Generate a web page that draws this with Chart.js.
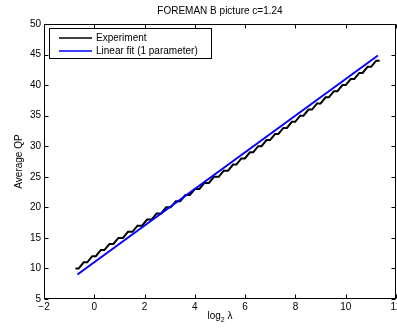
<!DOCTYPE html>
<html>
<head>
<meta charset="utf-8">
<script src="https://cdn.jsdelivr.net/npm/chart.js@4.4.0/dist/chart.umd.min.js"></script>
<style>
  html, body { margin: 0; padding: 0; background: #fff; }
</style>
</head>
<body>
<canvas id="chart" width="397" height="332"></canvas>
<script>
// Данные
const TITLE = "FOREMAN B picture c=1.24";
const X_TICKS = [-2, 0, 2, 4, 6, 8, 10, 12];
const Y_TICKS = [5, 10, 15, 20, 25, 30, 35, 40, 45, 50];

// Experiment: лесенка (полка + короткий подъём на следующий QP)
const expLog2Lambda = [-0.75, -0.62, -0.42, -0.28, -0.08, 0.06, 0.26, 0.40, 0.60, 0.76,
  0.96, 1.14, 1.34, 1.52, 1.72, 1.90, 2.10, 2.28, 2.48, 2.66, 2.86, 3.04, 3.24, 3.42,
  3.62, 3.80, 4.00, 4.18, 4.38, 4.56, 4.76, 4.95, 5.15, 5.32, 5.52, 5.65, 5.85, 5.99,
  6.19, 6.32, 6.52, 6.65, 6.85, 6.99, 7.19, 7.32, 7.52, 7.66, 7.86, 7.99, 8.19, 8.32,
  8.52, 8.66, 8.86, 9.00, 9.20, 9.33, 9.53, 9.67, 9.87, 10.00, 10.20, 10.34, 10.54,
  10.67, 10.87, 11.01, 11.21, 11.35];
const expQP = [10, 10, 11, 11, 12, 12, 13, 13, 14, 14, 15, 15, 16, 16, 17, 17, 18, 18,
  19, 19, 20, 20, 21, 21, 22, 22, 23, 23, 24, 24, 25, 25, 26, 26, 27, 27, 28, 28, 29,
  29, 30, 30, 31, 31, 32, 32, 33, 33, 34, 34, 35, 35, 36, 36, 37, 37, 38, 38, 39, 39,
  40, 40, 41, 41, 42, 42, 43, 43, 44, 44];

// Linear fit (1 parameter)
const fitLog2Lambda = [-0.67, 11.28];
const fitQP = [9.0, 44.85];

const FONT = '"Liberation Sans", Arial, Helvetica, sans-serif';
const fmtTick = (v) => (v < 0 ? "\u2212" + Math.abs(v) : String(v));

const frame = {
  id: "frame",
  afterDraw(chart) {
    const { ctx, chartArea: a, scales } = chart;
    const L = Math.round(a.left) + 0.5, R = Math.round(a.right) - 0.5;
    const T = Math.round(a.top) + 0.5, B = Math.round(a.bottom) - 0.5;
    ctx.save();
    ctx.strokeStyle = "#000";
    ctx.lineWidth = 1;
    ctx.strokeRect(L, T, R - L, B - T);
    // Тики внутрь, на всех четырёх сторонах
    ctx.beginPath();
    X_TICKS.forEach((v) => {
      const px = Math.round(scales.x.getPixelForValue(v)) + 0.5;
      ctx.moveTo(px, B); ctx.lineTo(px, B - 4);
      ctx.moveTo(px, T); ctx.lineTo(px, T + 4);
    });
    Y_TICKS.forEach((v) => {
      const py = Math.round(scales.y.getPixelForValue(v)) + 0.5;
      ctx.moveTo(L, py); ctx.lineTo(L + 4, py);
      ctx.moveTo(R, py); ctx.lineTo(R - 4, py);
    });
    ctx.stroke();

    // Заголовок и подписи осей
    ctx.fillStyle = "#000";
    ctx.font = "10px " + FONT;
    ctx.textAlign = "center";
    ctx.textBaseline = "middle";
    const cx = (a.left + a.right) / 2;
    ctx.fillText(TITLE, cx, 11);

    // log_2 λ
    const w1 = ctx.measureText("log").width;
    ctx.font = "7px " + FONT;
    const w2 = ctx.measureText("2").width;
    ctx.font = "10px " + FONT;
    const w3 = ctx.measureText(" \u03bb").width;
    const x0 = cx - (w1 + w2 + w3) / 2;
    ctx.textAlign = "left";
    ctx.fillText("log", x0, 316);
    ctx.font = "7px " + FONT;
    ctx.fillText("2", x0 + w1, 320);
    ctx.font = "10px " + FONT;
    ctx.fillText(" \u03bb", x0 + w1 + w2, 316);

    ctx.save();
    ctx.translate(19, (a.top + a.bottom) / 2);
    ctx.rotate(-Math.PI / 2);
    ctx.textAlign = "center";
    ctx.fillText("Average QP", 0, 0);
    ctx.restore();

    // Легенда
    ctx.fillStyle = "#fff";
    ctx.fillRect(49.5, 28.5, 162, 30);
    ctx.strokeRect(49.5, 28.5, 162, 30);
    const rows = [["Experiment", "#000", 38], ["Linear fit (1 parameter)", "#0000ff", 51]];
    rows.forEach(([label, color, y]) => {
      ctx.strokeStyle = color;
      ctx.lineWidth = 1.5;
      ctx.beginPath(); ctx.moveTo(59, y); ctx.lineTo(92, y); ctx.stroke();
      ctx.fillStyle = "#000";
      ctx.textAlign = "left";
      ctx.fillText(label, 96, y);
    });
    ctx.restore();
  },
};

new Chart(document.getElementById("chart"), {
  type: "scatter",
  data: {
    datasets: [
      {
        label: "Experiment",
        data: expLog2Lambda.map((x, i) => ({ x, y: expQP[i] })),
        showLine: true,
        borderColor: "#000", borderWidth: 2, pointRadius: 0, order: 2,
      },
      {
        label: "Linear fit (1 parameter)",
        data: fitLog2Lambda.map((x, i) => ({ x, y: fitQP[i] })),
        showLine: true,
        borderColor: "#0000ff", borderWidth: 2, pointRadius: 0, order: 1,
      },
    ],
  },
  options: {
    responsive: false,
    devicePixelRatio: 1,
    animation: false,
    layout: { padding: { top: 24, right: 1, left: 0, bottom: 0 } },
    plugins: { legend: { display: false }, title: { display: false }, tooltip: { enabled: false } },
    scales: {
      x: {
        type: "linear", min: -2, max: 12,
        afterBuildTicks: (s) => { s.ticks = X_TICKS.map((v) => ({ value: v })); },
        afterFit: (s) => { s.height = 33; s.paddingLeft = 0; s.paddingRight = 0; },
        grid: { display: false, drawTicks: false },
        border: { display: false },
        ticks: { color: "#000", font: { size: 10, family: FONT }, padding: 2,
          maxRotation: 0, autoSkip: false, callback: fmtTick },
      },
      y: {
        type: "linear", min: 5, max: 50,
        afterBuildTicks: (s) => { s.ticks = Y_TICKS.map((v) => ({ value: v })); },
        afterFit: (s) => { s.width = 44; },
        grid: { display: false, drawTicks: false },
        border: { display: false },
        ticks: { color: "#000", font: { size: 10, family: FONT }, padding: 3, callback: fmtTick },
      },
    },
  },
  plugins: [frame],
});
</script>
</body>
</html>
